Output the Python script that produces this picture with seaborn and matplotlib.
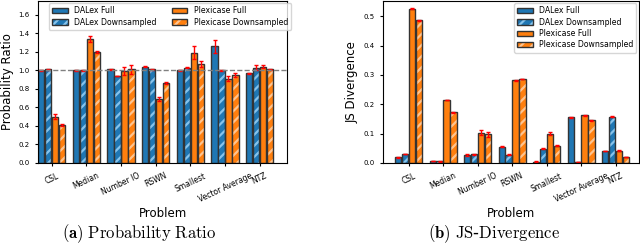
import pandas as pd
import seaborn as sns
import matplotlib.pyplot as plt
from matplotlib.patches import Rectangle
from matplotlib.legend_handler import HandlerTuple

# data
problems = ['CSL', 'Median', 'Number IO', 'RSWN', 'Smallest', 'Vector Average', 'NTZ']
methods = ['DALex Full', 'DALex Downsampled', 'Plexicase Full', 'Plexicase Downsampled']

# probability ratio (one list per method, in problem order)
ratio = {
    'DALex Full':            [1.00, 1.00, 1.01, 1.04, 1.00, 1.26, 0.97],
    'DALex Downsampled':     [1.01, 1.00, 0.94, 1.01, 1.03, 1.00, 1.03],
    'Plexicase Full':        [0.50, 1.34, 0.99, 0.69, 1.19, 0.91, 1.04],
    'Plexicase Downsampled': [0.41, 1.20, 1.01, 0.86, 1.07, 0.95, 1.01],
}
ratio_err = {
    'DALex Full':            [0.004, 0.004, 0.008, 0.008, 0.004, 0.07, 0.004],
    'DALex Downsampled':     [0.004, 0.004, 0.004, 0.008, 0.004, 0.004, 0.025],
    'Plexicase Full':        [0.03, 0.035, 0.045, 0.02, 0.07, 0.03, 0.015],
    'Plexicase Downsampled': [0.015, 0.012, 0.05, 0.01, 0.03, 0.02, 0.004],
}

# JS divergence
jsd = {
    'DALex Full':            [0.019, 0.007, 0.027, 0.055, 0.004, 0.155, 0.040],
    'DALex Downsampled':     [0.031, 0.005, 0.029, 0.028, 0.049, 0.003, 0.157],
    'Plexicase Full':        [0.525, 0.215, 0.103, 0.281, 0.100, 0.163, 0.042],
    'Plexicase Downsampled': [0.486, 0.172, 0.098, 0.286, 0.059, 0.145, 0.020],
}
jsd_err = {
    'DALex Full':            [0.001, 0.001, 0.002, 0.001, 0.001, 0.002, 0.001],
    'DALex Downsampled':     [0.001, 0.001, 0.001, 0.002, 0.001, 0.001, 0.002],
    'Plexicase Full':        [0.002, 0.001, 0.008, 0.001, 0.004, 0.002, 0.001],
    'Plexicase Downsampled': [0.002, 0.001, 0.008, 0.001, 0.002, 0.002, 0.001],
}

colors = ['#1f77b4', '#1f77b4', '#ff7f0e', '#ff7f0e']
hatch_colors = [None, '#86c3ec', None, '#ffc48e']
edge = '#333333'

plt.rcParams['hatch.linewidth'] = 1.6
plt.rcParams['mathtext.fontset'] = 'cm'
plt.rcParams['xtick.major.size'] = 2.5
plt.rcParams['ytick.major.size'] = 2.5


def long_form(vals, errs):
    rows = []
    for m in methods:
        for p, v, e in zip(problems, vals[m], errs[m]):
            rows.append({'Problem': p, 'Method': m, 'value': v, 'err': e})
    return pd.DataFrame(rows)


def outline(ax, bar):
    r = Rectangle(bar.get_xy(), bar.get_width(), bar.get_height(), fill=False,
                  edgecolor=edge, linewidth=1, zorder=bar.get_zorder() + 0.1)
    ax.add_patch(r)
    return r


def draw(ax, vals, errs):
    df = long_form(vals, errs)
    sns.barplot(data=df, x='Problem', y='value', hue='Method', hue_order=methods,
                palette=colors, errorbar=None, gap=0.08, edgecolor=edge,
                linewidth=1, saturation=1, legend=False, ax=ax)
    bar_containers = list(ax.containers)
    handles = []
    for i, container in enumerate(bar_containers):
        first = None
        for bar, e in zip(container, errs[methods[i]]):
            if hatch_colors[i]:
                # hatch takes the edge colour, so draw the dark outline on top
                bar.set_hatch('///')
                bar.set_edgecolor(hatch_colors[i])
                bar.set_linewidth(0)
                r = outline(ax, bar)
                if first is None:
                    first = (bar, r)
            ax.errorbar(bar.get_x() + bar.get_width() / 2, bar.get_height(), yerr=e,
                        color='red', capsize=1.5, elinewidth=1, capthick=1)
        handles.append(first if first else container.patches[0])
    ax.set_xlabel('Problem', fontsize=8.5, labelpad=2)
    ax.set_xticks(range(len(problems)))
    ax.set_xticklabels(problems, rotation=25, fontsize=5.5)
    ax.tick_params(axis='y', labelsize=5)
    return handles


fig = plt.figure(figsize=(6.4, 2.45), dpi=100)
ax1 = fig.add_axes([0.059, 0.335, 0.39, 0.661])
ax2 = fig.add_axes([0.598, 0.335, 0.400, 0.661])

# (a) probability ratio
h1 = draw(ax1, ratio, ratio_err)
ax1.axhline(1.0, color='grey', ls='--', lw=1)
ax1.set_xlim(-0.4, 6.8)
ax1.set_ylim(0, 1.75)
ax1.set_ylabel('Probability Ratio', fontsize=8.5, labelpad=3)
ax1.legend(h1, methods, ncol=2, loc='upper center', bbox_to_anchor=(0.53, 1.0),
           fontsize=5.6, handlelength=2.0, columnspacing=2.0, borderaxespad=0.3,
           labelspacing=0.3, handler_map={tuple: HandlerTuple(ndivide=1, pad=0)})

# (b) JS divergence
h2 = draw(ax2, jsd, jsd_err)
ax2.set_xlim(-0.75, 6.67)
ax2.set_ylim(0, 0.552)
ax2.set_ylabel('JS Divergence', fontsize=8.5, labelpad=3)
ax2.legend(h2, methods, loc='upper right', fontsize=5.6, handlelength=2.0,
           borderaxespad=0.3, labelspacing=0.3,
           handler_map={tuple: HandlerTuple(ndivide=1, pad=0)})

fig.text(0.217, 0.045, r'$\mathbf{(a)}\ \mathrm{Probability\ Ratio}$', ha='center',
         va='center', fontsize=12)
fig.text(0.772, 0.045, r'$\mathbf{(b)}\ \mathrm{JS}$-$\mathrm{Divergence}$', ha='center',
         va='center', fontsize=12)

fig.savefig('out.png', dpi=100)
